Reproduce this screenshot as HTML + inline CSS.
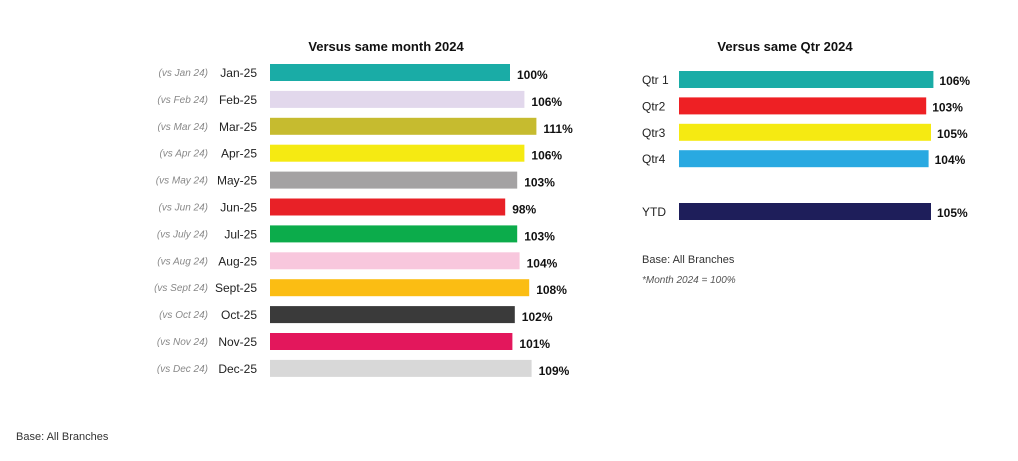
<!DOCTYPE html>
<html><head><meta charset="utf-8"><style>
body{margin:0;background:#fff;width:1018px;height:456px;overflow:hidden;font-family:"Liberation Sans",sans-serif}
svg text{font-family:"Liberation Sans",sans-serif}
</style></head><body>
<svg id="c" width="1018" height="456">
<text x="386" y="51" text-anchor="middle" font-size="13" font-weight="bold" fill="#111">Versus same month 2024</text>
<text x="785" y="51" text-anchor="middle" font-size="13" font-weight="bold" fill="#111">Versus same Qtr 2024</text>
<text x="642" y="263" font-size="11" fill="#333">Base:  All Branches</text>
<text x="642" y="283" font-size="10" font-style="italic" fill="#555">*Month 2024 = 100%</text>
<text x="16" y="440" font-size="11" fill="#333">Base:  All Branches</text>
</svg>
<script>
const months=["Jan-25","Feb-25","Mar-25","Apr-25","May-25","Jun-25","Jul-25","Aug-25","Sept-25","Oct-25","Nov-25","Dec-25"];
const vsLabels=["(vs Jan 24)","(vs Feb 24)","(vs Mar 24)","(vs Apr 24)","(vs May 24)","(vs Jun 24)","(vs July 24)","(vs Aug 24)","(vs Sept 24)","(vs Oct 24)","(vs Nov 24)","(vs Dec 24)"];
const monthValues=[100,106,111,106,103,98,103,104,108,102,101,109];
const monthColors=["#1aaca6","#e2d8ec","#c6bb2f","#f5ea12","#a4a2a3","#e82127","#0cac4b","#f8c7dd","#fbbd13","#3a3a3a","#e3175c","#d8d8d8"];
const qtrs=["Qtr 1","Qtr2","Qtr3","Qtr4","YTD"];
const qtrValues=[106,103,105,104,105];
const qtrColors=["#1aaca6","#ee2024","#f5ea12","#29a9e1","#1e1e5a"];
const svg=document.getElementById('c');
const NS='http://www.w3.org/2000/svg';
const scale=2.4;
function xL(v){return 270+v*scale;}
function xR(v){return 679+v*scale;}
function yL(i){return 64+i*26.9;}
function yR(i){return 71+(i<4?i:5)*26.4;}
function mk(tag,attrs,txt){const e=document.createElementNS(NS,tag);for(const k in attrs)e.setAttribute(k,attrs[k]);if(txt!==undefined)e.textContent=txt;svg.appendChild(e);return e;}
months.forEach((m,i)=>{
  const y=yL(i);
  let r=mk('rect',{x:270,y:y,width:xL(monthValues[i])-270,height:17,fill:monthColors[i]});
  
  
  let t=mk('text',{x:257,y:y+13,'text-anchor':'end','font-size':12,fill:'#222'},m);
  
  
  let v=mk('text',{x:208,y:y+12,'text-anchor':'end','font-size':10,'font-style':'italic',fill:'#888'},vsLabels[i]);
  
  
  let p=mk('text',{x:xL(monthValues[i])+7,y:y+15,'font-size':12,'font-weight':'bold',fill:'#111'},monthValues[i]+'%');
  
  
});
qtrs.forEach((q,i)=>{
  const y=yR(i);
  let r=mk('rect',{x:679,y:y,width:xR(qtrValues[i])-679,height:17,fill:qtrColors[i]});
  
  
  let t=mk('text',{x:642,y:y+13,'font-size':12,fill:'#222'},q);
  
  
  let p=mk('text',{x:xR(qtrValues[i])+6,y:y+14,'font-size':12,'font-weight':'bold',fill:'#111'},qtrValues[i]+'%');
  
  
});
</script>
</body></html>
